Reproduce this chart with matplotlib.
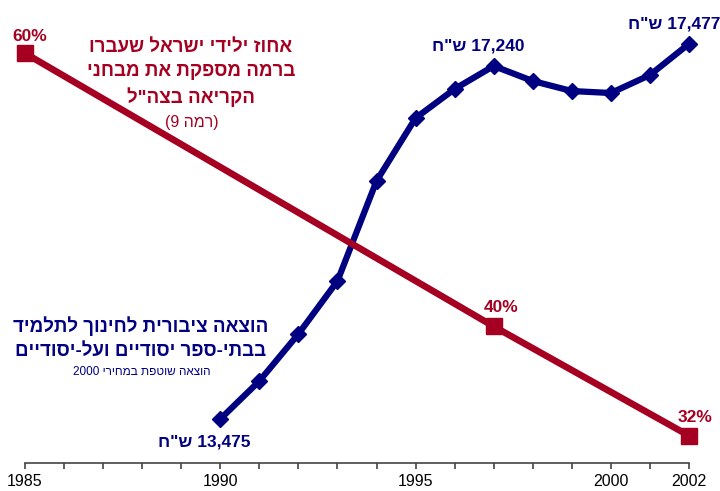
import re
import matplotlib
matplotlib.use('Agg')
from matplotlib import pyplot as plt

plt.rcParams['font.family'] = ['Liberation Sans', 'DejaVu Sans']

# red series: literacy share (percent)
years_red = [1985, 1997, 2002]
pct_red = [60, 40, 32]
pct_labels = ['60%', '40%', '32%']

# blue series: public spending per pupil (NIS, 2000 prices)
years_blue = list(range(1990, 2003))
spend_blue = [13475, 13880, 14382, 14947, 16014, 16685, 16995, 17240,
              17080, 16973, 16952, 17144, 17477]
spend_labeled = {1990: '13,475 ש"ח', 1997: '17,240 ש"ח', 2002: '17,477 ש"ח'}

tick_years = list(range(1985, 2003))
label_years = [1985, 1990, 1995, 2000, 2002]

red_title = ['אחוז ילידי ישראל שעברו', 'ברמה מספקת את מבחני', 'הקריאה בצה"ל']
red_sub = '(רמה 9)'
blue_title = ['הוצאה ציבורית לחינוך לתלמיד', 'בבתי-ספר יסודיים ועל-יסודיים']
blue_sub = 'הוצאה שוטפת במחירי 2000'

RED = '#A50021'
BLUE = '#000080'
W, H = 720, 491

_mirror = str.maketrans('()', ')(')


def rtl(s):
    # crude visual ordering for right-to-left text
    parts = re.findall(r'[0-9][0-9,.]*|[^0-9]+', s)
    out = []
    for p in reversed(parts):
        out.append(p if p[0].isdigit() else p[::-1].translate(_mirror))
    return ''.join(out)


def px(x, y):
    return x / W, 1 - y / H


fig = plt.figure(figsize=(W / 100, H / 100), dpi=100)
ax = fig.add_axes([25 / W, (H - 463) / H, 664 / W, 463 / H])
ax.set_xlim(1985, 2002)
ax.set_ylim(13006, 17944)
ax_r = ax.twinx()
ax_r.set_ylim(30.0, 63.9)

ax.plot(years_blue, spend_blue, color=BLUE, lw=4.5, marker='D', ms=8,
        clip_on=False, solid_joinstyle='miter')
ax_r.plot(years_red, pct_red, color=RED, lw=4.8, marker='s', ms=12,
          clip_on=False)

for yr, lab in spend_labeled.items():
    v = spend_blue[years_blue.index(yr)]
    off = (-16, -23) if yr == 1990 else (-15, 20)
    ax.annotate(rtl(lab), xy=(yr, v), textcoords='offset pixels', xytext=off,
                ha='center', va='center', fontsize=12.5, fontweight='bold',
                color=BLUE, annotation_clip=False)

red_offs = [(5, 17), (7, 19), (6, 18)]
for yr, v, lab, off in zip(years_red, pct_red, pct_labels, red_offs):
    ax_r.annotate(lab, xy=(yr, v), textcoords='offset pixels', xytext=off,
                  ha='center', va='center', fontsize=12.5, fontweight='bold',
                  color=RED, annotation_clip=False)

for i, line in enumerate(red_title):
    fig.text(*px(191, 47 + 25 * i), rtl(line), ha='center', va='center',
             fontsize=13.5, fontweight='bold', color=RED)
fig.text(*px(192, 122), rtl(red_sub), ha='center', va='center',
         fontsize=11.5, color=RED)

for i, line in enumerate(blue_title):
    fig.text(*px(141, 326 + 25 * i), rtl(line), ha='center', va='center',
             fontsize=13.5, fontweight='bold', color=BLUE)
fig.text(*px(142, 372), rtl(blue_sub), ha='center', va='center',
         fontsize=8.5, color=BLUE)

for a in (ax, ax_r):
    for side in ('top', 'left', 'right'):
        a.spines[side].set_visible(False)
    a.set_yticks([])
ax_r.spines['bottom'].set_visible(False)
ax.spines['bottom'].set_color('#444444')
ax.spines['bottom'].set_linewidth(1.2)
ax.set_xticks(tick_years)
ax.set_xticklabels([str(y) if y in label_years else '' for y in tick_years],
                   fontsize=11.5)
ax.tick_params(axis='x', direction='out', length=4.3, width=1.2,
               color='#444444', pad=3.5)
ax.patch.set_visible(False)

fig.savefig('out.png', dpi=100)
